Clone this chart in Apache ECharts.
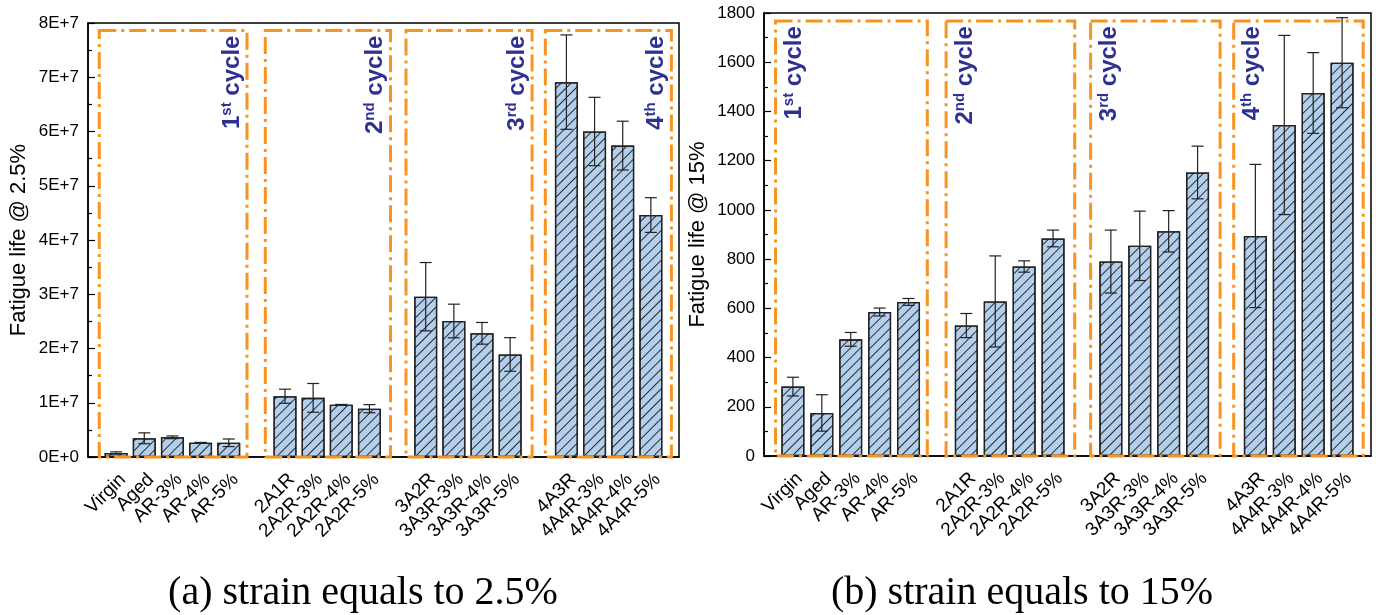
<!DOCTYPE html>
<html>
<head>
<meta charset="utf-8">
<script src="https://cdn.jsdelivr.net/npm/echarts@6/dist/echarts.min.js"></script>
<style>
  html, body { margin: 0; padding: 0; background: #fff; }
  #chart { width: 1376px; height: 615px; }
</style>
</head>
<body>
<div id="chart"></div>
<script>
// Sample names, grouped by recycling cycle
const samples = ['Virgin', 'Aged', 'AR-3%', 'AR-4%', 'AR-5%',
                 '2A1R', '2A2R-3%', '2A2R-4%', '2A2R-5%',
                 '3A2R', '3A3R-3%', '3A3R-4%', '3A3R-5%',
                 '4A3R', '4A4R-3%', '4A4R-4%', '4A4R-5%'];
const groupSizes = [5, 4, 4, 4];

// Fatigue life at 2.5 % strain (mean and standard deviation)
const life25 = [7.5e5, 3.45e6, 3.63e6, 2.64e6, 2.62e6,
                1.12e7, 1.09e7, 9.64e6, 8.9e6,
                2.955e7, 2.507e7, 2.28e7, 1.89e7,
                6.91e7, 6.0e7, 5.74e7, 4.46e7];
const err25 = [2e5, 1.0e6, 2.5e5, 5e4, 7e5,
               1.3e6, 2.65e6, 5e4, 7.5e5,
               6.3e6, 3.1e6, 2.0e6, 3.1e6,
               8.7e6, 6.3e6, 4.5e6, 3.2e6];

// Fatigue life at 15 % strain (mean and standard deviation)
const life15 = [282, 175, 474, 585, 626,
                530, 628, 770, 884,
                790, 854, 913, 1152,
                894, 1345, 1475, 1598];
const err15 = [38, 74, 28, 16, 14,
               49, 185, 23, 34,
               128, 141, 84, 107,
               291, 364, 164, 183];

// Cycle annotations
const cycleNum = ['1', '2', '3', '4'];
const cycleSup = ['st', 'nd', 'rd', 'th'];
// Extent of each cycle frame along the slot axis (start, end)
const cycleSpan = [[0.4, 5.65], [6.3, 10.75], [11.3, 15.78], [16.25, 20.73]];

const captions = ['(a) strain equals to 2.5%', '(b) strain equals to 15%'];

// Category axis with an empty slot at both ends and between cycles
const slotLabels = [''];
const slotPos = [];
(function () {
  let k = 0;
  groupSizes.forEach(n => {
    for (let i = 0; i < n; i++) { slotPos.push(slotLabels.length); slotLabels.push(samples[k++]); }
    slotLabels.push('');
  });
})();
const SLOT_MAX = slotLabels.length - 1;

const FONT = 'Liberation Sans, Arial, sans-serif';
const SERIF = 'Liberation Serif, Times New Roman, serif';
const ORANGE = '#F7931E';
const NAVY = '#2E3192';

function barData(vals) { return vals.map((v, i) => [slotPos[i], v]); }
function errData(vals, errs) { return vals.map((v, i) => [slotPos[i], v - errs[i], v + errs[i]]); }

function errorRender(params, api) {
  const x = api.value(0);
  const lo = api.coord([x, api.value(1)]);
  const hi = api.coord([x, api.value(2)]);
  const cap = 6;
  const st = { stroke: '#222', lineWidth: 1.2 };
  return {
    type: 'group',
    children: [
      { type: 'line', shape: { x1: hi[0], y1: hi[1], x2: lo[0], y2: lo[1] }, style: st },
      { type: 'line', shape: { x1: hi[0] - cap, y1: hi[1], x2: hi[0] + cap, y2: hi[1] }, style: st },
      { type: 'line', shape: { x1: lo[0] - cap, y1: lo[1], x2: lo[0] + cap, y2: lo[1] }, style: st }
    ]
  };
}

function cycleRender(labelSide) {
  return function (params, api) {
    const i = params.dataIndex;
    const a = api.coord([api.value(0), api.value(2)]);
    const b = api.coord([api.value(1), 0]);
    const tx = labelSide === 'right' ? b[0] - 15 : a[0] + 19;
    return {
      type: 'group',
      children: [
        {
          type: 'rect',
          shape: { x: a[0], y: a[1], width: b[0] - a[0], height: b[1] - a[1] },
          style: { fill: 'none', stroke: ORANGE, lineWidth: 3, lineDash: [17, 5, 3, 5] }
        },
        {
          type: 'text',
          x: tx, y: a[1] + 5,
          rotation: Math.PI / 2,
          style: {
            text: '{n|' + cycleNum[i] + '}{s|' + cycleSup[i] + '}{n| cycle}',
            align: 'right', verticalAlign: 'middle',
            fill: NAVY,
            rich: {
              n: { fontSize: 24, fontWeight: 'bold', fontFamily: FONT, fill: NAVY, lineHeight: 26 },
              s: { fontSize: 15, fontWeight: 'bold', fontFamily: FONT, fill: NAVY, lineHeight: 15, verticalAlign: 'top' }
            }
          }
        }
      ]
    };
  };
}

function cycleData(top) { return cycleSpan.map(s => [s[0], s[1], top]); }

function xCat(gridIndex) {
  return {
    type: 'category', gridIndex, data: slotLabels, boundaryGap: false,
    axisLine: { lineStyle: { color: '#000', width: 1.5 } },
    axisTick: { show: false },
    axisLabel: { interval: 0, rotate: 45, fontSize: 19, color: '#000', fontFamily: FONT,
                 margin: 13, verticalAlign: 'top' },
    splitLine: { show: false }
  };
}
function xHidden(gridIndex) {
  return { type: 'value', gridIndex, min: 0, max: SLOT_MAX, show: false };
}
function yAxis(gridIndex, max, interval, name, gap, fmt) {
  return {
    type: 'value', gridIndex, min: 0, max, interval,
    name, nameLocation: 'middle', nameGap: gap,
    nameTextStyle: { fontSize: 22, color: '#000', fontFamily: FONT },
    axisLine: { show: true, lineStyle: { color: '#000', width: 1.5 } },
    axisTick: { show: true, inside: true, length: 7, lineStyle: { color: '#000', width: 1.2 } },
    minorTick: { show: true, splitNumber: 2, length: 4, lineStyle: { color: '#000', width: 1.2 } },
    axisLabel: { fontSize: 17, color: '#000', fontFamily: FONT, margin: 9, formatter: fmt },
    splitLine: { show: false }
  };
}

// Diagonal "/" hatching over the bar fill
const hatch = {
  symbol: 'rect', symbolSize: 1,
  dashArrayX: [1, 0], dashArrayY: [1, 6],
  rotation: -Math.PI / 4,
  color: 'rgba(0,0,0,0.8)'
};
const barStyle = { color: '#B3CFEB', borderColor: '#222', borderWidth: 1.3, decal: hatch };

const captionStyle = { fontFamily: SERIF, fontSize: 40, fontWeight: 'normal', color: '#000' };

const option = {
  animation: false,
  backgroundColor: '#fff',
  aria: { enabled: false },
  title: [
    { text: captions[0], left: 358, top: 568, textAlign: 'center', textStyle: captionStyle },
    { text: captions[1], left: 1017, top: 568, textAlign: 'center', textStyle: captionStyle }
  ],
  grid: [
    { left: 88, right: 697, top: 23, bottom: 158, show: true, borderColor: '#000', borderWidth: 1.5 },
    { left: 764, right: 5, top: 13, bottom: 159, show: true, borderColor: '#000', borderWidth: 1.5 }
  ],
  xAxis: [xCat(0), xHidden(0), xCat(1), xHidden(1)],
  yAxis: [
    yAxis(0, 8e7, 1e7, 'Fatigue life @ 2.5%', 58, v => v === 0 ? '0E+0' : (v / 1e7) + 'E+7'),
    yAxis(1, 1800, 200, 'Fatigue life @ 15%', 55, v => String(v))
  ],
  series: [
    { type: 'bar', xAxisIndex: 0, yAxisIndex: 0, barWidth: 23, data: barData(life25), itemStyle: barStyle, z: 2 },
    { type: 'custom', xAxisIndex: 0, yAxisIndex: 0, data: errData(life25, err25),
      encode: { x: 0, y: [1, 2] }, renderItem: errorRender, z: 4 },
    { type: 'custom', xAxisIndex: 1, yAxisIndex: 0, data: cycleData(7.86e7),
      encode: { x: [0, 1], y: 2 }, renderItem: cycleRender('right'), z: 3 },

    { type: 'bar', xAxisIndex: 2, yAxisIndex: 1, barWidth: 23, data: barData(life15), itemStyle: barStyle, z: 2 },
    { type: 'custom', xAxisIndex: 2, yAxisIndex: 1, data: errData(life15, err15),
      encode: { x: 0, y: [1, 2] }, renderItem: errorRender, z: 4 },
    { type: 'custom', xAxisIndex: 3, yAxisIndex: 1, data: cycleData(1767),
      encode: { x: [0, 1], y: 2 }, renderItem: cycleRender('left'), z: 3 }
  ]
};

const chart = echarts.init(document.getElementById('chart'), null, { renderer: 'canvas' });
chart.setOption(option);
</script>
</body>
</html>
